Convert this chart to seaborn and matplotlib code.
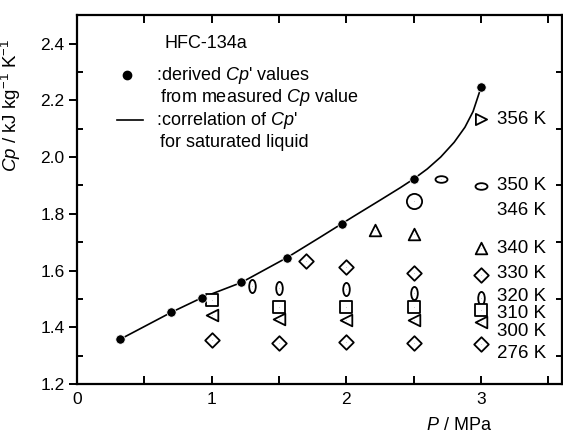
import numpy as np
import pandas as pd
import matplotlib
matplotlib.use('Agg')
import matplotlib.pyplot as plt
import seaborn as sns
from matplotlib.path import Path
from matplotlib.transforms import Affine2D

# derived Cp' values (filled dots)
p_sat = [0.32, 0.70, 0.93, 1.22, 1.56, 1.97, 2.50, 3.00]
cp_sat = [1.358, 1.453, 1.505, 1.558, 1.646, 1.765, 1.923, 2.246]

# correlation curve
p_corr = [0.32, 0.70, 0.93, 1.22, 1.56, 1.80, 2.05, 2.25, 2.40, 2.50, 2.60, 2.70, 2.80, 2.88, 2.94, 3.00]
cp_corr = [1.358, 1.453, 1.505, 1.558, 1.646, 1.716, 1.790, 1.848, 1.892, 1.923, 1.958, 2.000, 2.052, 2.105, 2.160, 2.246]

# isotherms
p_356 = [3.0]
cp_356 = [2.133]
p_350 = [2.70, 3.0]
cp_350 = [1.923, 1.898]
p_346 = [2.5]
cp_346 = [1.846]
p_340 = [2.21, 2.5, 3.0]
cp_340 = [1.743, 1.730, 1.681]
p_330 = [1.70, 2.0, 2.5, 3.0]
cp_330 = [1.632, 1.611, 1.590, 1.583]
p_320 = [1.30, 1.5, 2.0, 2.5, 3.0]
cp_320 = [1.547, 1.540, 1.536, 1.520, 1.505]
p_310 = [1.0, 1.5, 2.0, 2.5, 3.0]
cp_310 = [1.498, 1.470, 1.470, 1.470, 1.460]
p_300 = [1.0, 1.5, 2.0, 2.5, 3.0]
cp_300 = [1.442, 1.430, 1.425, 1.425, 1.418]
p_276 = [1.0, 1.5, 2.0, 2.5, 3.0]
cp_276 = [1.354, 1.344, 1.347, 1.344, 1.340]

temp_labels = ['356 K', '350 K', '346 K', '340 K', '330 K', '320 K', '310 K', '300 K', '276 K']
label_y = [2.133, 1.898, 1.81, 1.677, 1.589, 1.509, 1.449, 1.386, 1.309]

plt.rcParams['font.family'] = ['Liberation Sans', 'DejaVu Sans']
plt.rcParams['mathtext.fontset'] = 'custom'
plt.rcParams['mathtext.rm'] = 'Liberation Sans'
plt.rcParams['mathtext.it'] = 'Liberation Sans:italic'

circ = Path.unit_circle()
ell_v = circ.transformed(Affine2D().scale(0.5, 1.0))
ell_h = circ.transformed(Affine2D().scale(1.0, 0.55))

fig, ax = plt.subplots(figsize=(5.63, 4.33), dpi=100)
fig.subplots_adjust(left=0.137, right=0.998, bottom=0.113, top=0.965)

sns.lineplot(x=p_corr, y=cp_corr, ax=ax, color='black', lw=1.2, sort=False)
sns.scatterplot(x=p_sat, y=cp_sat, ax=ax, color='black', s=45, marker='o', zorder=5)

series = [
    (p_356, cp_356, '>', 65),
    (p_350, cp_350, ell_h, 75),
    (p_346, cp_346, 'o', 120),
    (p_340, cp_340, '^', 70),
    (p_330, cp_330, 'D', 55),
    (p_320, cp_320, ell_v, 90),
    (p_310, cp_310, 's', 65),
    (p_300, cp_300, '<', 70),
    (p_276, cp_276, 'D', 55),
]
for px, py, m, s in series:
    sns.scatterplot(x=px, y=py, ax=ax, marker=m, s=s, facecolor='white',
                    edgecolor='black', linewidth=1.3, zorder=4)
    sns.scatterplot(x=px, y=py, ax=ax, marker='.', s=2, color='black',
                    linewidth=0, zorder=6)

for lab, yy in zip(temp_labels, label_y):
    ax.text(3.12, yy, lab, fontsize=13.5, va='center', ha='left')

# key
fs = 13
ax.text(0.181, 0.924, 'HFC-134a', transform=ax.transAxes, fontsize=fs, va='center')
ax.plot([0.103], [0.837], 'o', color='black', ms=6, transform=ax.transAxes)
ax.text(0.163, 0.837, ":derived $Cp$' values", transform=ax.transAxes, fontsize=fs, va='center')
ax.text(0.170, 0.778, "from measured $Cp$ value", transform=ax.transAxes, fontsize=fs, va='center')
ax.plot([0.082, 0.136], [0.715, 0.715], color='black', lw=1.2, transform=ax.transAxes)
ax.text(0.163, 0.715, ":correlation of $Cp$'", transform=ax.transAxes, fontsize=fs, va='center')
ax.text(0.170, 0.656, "for saturated liquid", transform=ax.transAxes, fontsize=fs, va='center')

ax.set_xlim(0, 3.6)
ax.set_ylim(1.2, 2.5)
ax.set_xticks([0, 1, 2, 3])
ax.set_xticks([0.5, 1.5, 2.5, 3.5], minor=True)
ax.set_yticks([1.2, 1.4, 1.6, 1.8, 2.0, 2.2, 2.4])
ax.set_yticks([1.3, 1.5, 1.7, 1.9, 2.1, 2.3, 2.5], minor=True)
ax.set_yticklabels(['1.2', '1.4', '1.6', '1.8', '2.0', '2.2', '2.4'])
ax.tick_params(axis='both', which='both', labelsize=12.5, width=1.4, color='black')
ax.tick_params(axis='x', which='both', direction='in', top=True, bottom=True, length=6, pad=6)
ax.tick_params(axis='y', which='major', direction='out', left=True, right=True, length=6, pad=3)
ax.tick_params(axis='y', which='minor', direction='in', left=True, right=True, length=4)
for sp in ax.spines.values():
    sp.set_linewidth(1.6)

ax.set_xlabel('$P$ / MPa', fontsize=13)
ax.xaxis.set_label_coords(0.788, -0.09)
ax.set_ylabel('$Cp$ / kJ kg$^{-1}$ K$^{-1}$', fontsize=13.5)
ax.yaxis.set_label_coords(-0.112, 0.756)

plt.savefig('out.png', dpi=100)
